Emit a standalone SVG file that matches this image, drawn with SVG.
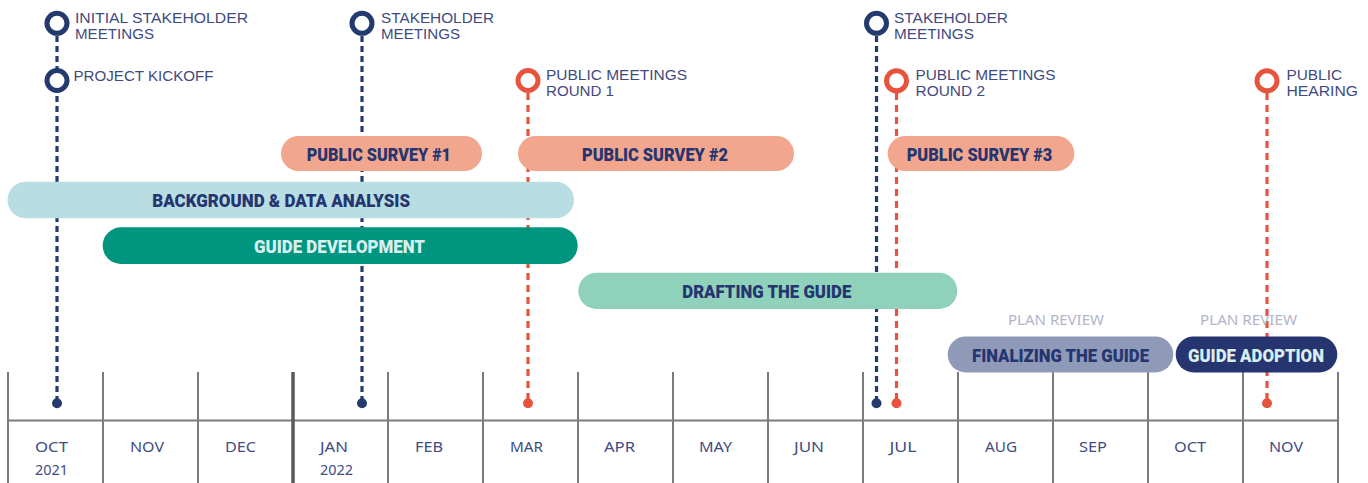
<svg xmlns="http://www.w3.org/2000/svg" width="1368" height="483" viewBox="0 0 1368 483">
  <style>
    .grid { stroke: #7b7b7b; stroke-width: 2; fill: none; }
    .grid-year { stroke: #5a5a5a; stroke-width: 3.5; }
    .month { font-family: "Noto Sans", "DejaVu Sans", sans-serif; font-size: 15px; fill: #414c82; }
    .label { font-family: "Liberation Sans", Arial, sans-serif; font-size: 14px; fill: #3f4a80; }
    .review { font-family: "Noto Sans", "DejaVu Sans", sans-serif; font-size: 13.5px; fill: #b4b4c9; }
    .bar-text { font-family: Roboto, "Liberation Sans", sans-serif; font-weight: 900; font-size: 19px; fill: #253570; }
    .bar-text.light { fill: #d9eeee; }
    .ring-navy { fill: #ffffff; stroke: #233a6e; stroke-width: 5; }
    .ring-red { fill: #ffffff; stroke: #e8533e; stroke-width: 5; }
    .dash-navy { stroke: #233a6e; stroke-width: 3.2; stroke-dasharray: 6 4; fill: none; }
    .dash-red { stroke: #e8533e; stroke-width: 3.2; stroke-dasharray: 7 5; fill: none; }
    .dot-navy { fill: #233a6e; }
    .dot-red { fill: #e8533e; }
  </style>

  <rect width="1368" height="483" fill="#ffffff"/>

  <!-- month grid -->
  <g id="month-grid">
    <line class="grid" x1="8" y1="420.5" x2="1338" y2="420.5"/>
    <line class="grid" x1="8" y1="372" x2="8" y2="483"/>
    <line class="grid" x1="103" y1="372" x2="103" y2="483"/>
    <line class="grid" x1="198" y1="372" x2="198" y2="483"/>
    <line class="grid grid-year" x1="293" y1="372" x2="293" y2="483"/>
    <line class="grid" x1="388" y1="372" x2="388" y2="483"/>
    <line class="grid" x1="483" y1="372" x2="483" y2="483"/>
    <line class="grid" x1="578" y1="372" x2="578" y2="483"/>
    <line class="grid" x1="673" y1="372" x2="673" y2="483"/>
    <line class="grid" x1="768" y1="372" x2="768" y2="483"/>
    <line class="grid" x1="863" y1="372" x2="863" y2="483"/>
    <line class="grid" x1="958" y1="372" x2="958" y2="483"/>
    <line class="grid" x1="1053" y1="372" x2="1053" y2="483"/>
    <line class="grid" x1="1148" y1="372" x2="1148" y2="483"/>
    <line class="grid" x1="1243" y1="372" x2="1243" y2="483"/>
    <line class="grid" x1="1338" y1="372" x2="1338" y2="483"/>

    <text class="month" x="35" y="452" textLength="33" lengthAdjust="spacingAndGlyphs">OCT</text>
    <text class="month" x="35" y="475" textLength="33" lengthAdjust="spacingAndGlyphs">2021</text>
    <text class="month" x="130" y="452" textLength="34" lengthAdjust="spacingAndGlyphs">NOV</text>
    <text class="month" x="225" y="452" textLength="31" lengthAdjust="spacingAndGlyphs">DEC</text>
    <text class="month" x="320" y="452" textLength="28" lengthAdjust="spacingAndGlyphs">JAN</text>
    <text class="month" x="320" y="475" textLength="33" lengthAdjust="spacingAndGlyphs">2022</text>
    <text class="month" x="415" y="452" textLength="28" lengthAdjust="spacingAndGlyphs">FEB</text>
    <text class="month" x="510" y="452" textLength="33" lengthAdjust="spacingAndGlyphs">MAR</text>
    <text class="month" x="604" y="452" textLength="31" lengthAdjust="spacingAndGlyphs">APR</text>
    <text class="month" x="699" y="452" textLength="33" lengthAdjust="spacingAndGlyphs">MAY</text>
    <text class="month" x="794" y="452" textLength="30" lengthAdjust="spacingAndGlyphs">JUN</text>
    <text class="month" x="889.5" y="452" textLength="27" lengthAdjust="spacingAndGlyphs">JUL</text>
    <text class="month" x="985" y="452" textLength="32" lengthAdjust="spacingAndGlyphs">AUG</text>
    <text class="month" x="1079" y="452" textLength="28" lengthAdjust="spacingAndGlyphs">SEP</text>
    <text class="month" x="1174" y="452" textLength="32" lengthAdjust="spacingAndGlyphs">OCT</text>
    <text class="month" x="1269" y="452" textLength="34" lengthAdjust="spacingAndGlyphs">NOV</text>
  </g>

  <!-- milestone drop lines -->
  <g id="connectors">
    <line class="dash-navy" x1="57" y1="36" x2="57" y2="400"/>
    <circle class="dot-navy" cx="57" cy="403.3" r="5"/>
    <line class="dash-navy" x1="362" y1="36" x2="362" y2="400"/>
    <circle class="dot-navy" cx="362" cy="403.3" r="5"/>
    <line class="dash-red" x1="528" y1="93" x2="528" y2="400"/>
    <circle class="dot-red" cx="528" cy="403.3" r="5"/>
    <line class="dash-navy" x1="876.5" y1="36" x2="876.5" y2="400"/>
    <circle class="dot-navy" cx="876.5" cy="403.3" r="5"/>
    <line class="dash-red" x1="896.5" y1="93" x2="896.5" y2="400"/>
    <circle class="dot-red" cx="896.5" cy="403.3" r="5"/>
    <line class="dash-red" x1="1267" y1="93" x2="1267" y2="400"/>
    <circle class="dot-red" cx="1267" cy="403.3" r="5"/>
  </g>

  <!-- task bars -->
  <g id="bar-survey-1">
    <rect x="281" y="136" width="201" height="35" rx="17.5" fill="#f2a68e"/>
    <text class="bar-text" x="306.7" y="161" textLength="144.3" lengthAdjust="spacingAndGlyphs">PUBLIC SURVEY #1</text>
  </g>
  <g id="bar-survey-2">
    <rect x="518" y="136" width="276" height="35" rx="17.5" fill="#f2a68e"/>
    <text class="bar-text" x="582" y="161" textLength="146" lengthAdjust="spacingAndGlyphs">PUBLIC SURVEY #2</text>
  </g>
  <g id="bar-survey-3">
    <rect x="887.7" y="136" width="186.6" height="35" rx="17.5" fill="#f2a68e"/>
    <text class="bar-text" x="906.7" y="161" textLength="145.6" lengthAdjust="spacingAndGlyphs">PUBLIC SURVEY #3</text>
  </g>
  <g id="bar-background">
    <rect x="7.5" y="181.7" width="566.5" height="36.6" rx="18.3" fill="#b8dde2"/>
    <text class="bar-text" x="152.3" y="207" textLength="257.7" lengthAdjust="spacingAndGlyphs">BACKGROUND &amp; DATA ANALYSIS</text>
  </g>
  <g id="bar-development">
    <rect x="102.7" y="227.3" width="475" height="36.7" rx="18.3" fill="#00957f"/>
    <text class="bar-text light" x="254" y="253" textLength="171" lengthAdjust="spacingAndGlyphs">GUIDE DEVELOPMENT</text>
  </g>
  <g id="bar-drafting">
    <rect x="578.3" y="272.7" width="379" height="36.3" rx="18.2" fill="#8fd1bb"/>
    <text class="bar-text" x="682.3" y="298" textLength="169" lengthAdjust="spacingAndGlyphs">DRAFTING THE GUIDE</text>
  </g>
  <g id="bar-finalizing">
    <text class="review" x="1008" y="325" textLength="96" lengthAdjust="spacingAndGlyphs">PLAN REVIEW</text>
    <rect x="947.7" y="336.4" width="225.6" height="36" rx="18" fill="#8f9ab9"/>
    <text class="bar-text" x="972" y="362" textLength="177" lengthAdjust="spacingAndGlyphs">FINALIZING THE GUIDE</text>
  </g>
  <g id="bar-adoption">
    <text class="review" x="1200" y="325" textLength="97" lengthAdjust="spacingAndGlyphs">PLAN REVIEW</text>
    <rect x="1175.7" y="336.4" width="161.6" height="36" rx="18" fill="#26356f"/>
    <text class="bar-text light" x="1188" y="362" textLength="136" lengthAdjust="spacingAndGlyphs">GUIDE ADOPTION</text>
  </g>

  <!-- milestones -->
  <g id="ms-initial-stakeholder">
    <circle class="ring-navy" cx="57" cy="23.3" r="10"/>
    <text class="label" x="75" y="23.3" textLength="173" lengthAdjust="spacingAndGlyphs">INITIAL STAKEHOLDER</text>
    <text class="label" x="75" y="39.3" textLength="79" lengthAdjust="spacingAndGlyphs">MEETINGS</text>
  </g>
  <g id="ms-project-kickoff">
    <circle class="ring-navy" cx="57" cy="80.5" r="10"/>
    <text class="label" x="73.5" y="80.8" textLength="140" lengthAdjust="spacingAndGlyphs">PROJECT KICKOFF</text>
  </g>
  <g id="ms-stakeholder-jan">
    <circle class="ring-navy" cx="362" cy="23.3" r="10"/>
    <text class="label" x="381" y="23.3" textLength="113" lengthAdjust="spacingAndGlyphs">STAKEHOLDER</text>
    <text class="label" x="381" y="39.3" textLength="79" lengthAdjust="spacingAndGlyphs">MEETINGS</text>
  </g>
  <g id="ms-public-round-1">
    <circle class="ring-red" cx="528" cy="80.5" r="10"/>
    <text class="label" x="546" y="80.3" textLength="141" lengthAdjust="spacingAndGlyphs">PUBLIC MEETINGS</text>
    <text class="label" x="546" y="96.3" textLength="68" lengthAdjust="spacingAndGlyphs">ROUND 1</text>
  </g>
  <g id="ms-stakeholder-jul">
    <circle class="ring-navy" cx="876.5" cy="23.3" r="10"/>
    <text class="label" x="894" y="23.3" textLength="114" lengthAdjust="spacingAndGlyphs">STAKEHOLDER</text>
    <text class="label" x="894" y="39.3" textLength="80" lengthAdjust="spacingAndGlyphs">MEETINGS</text>
  </g>
  <g id="ms-public-round-2">
    <circle class="ring-red" cx="896.5" cy="80.8" r="10"/>
    <text class="label" x="915.5" y="80.3" textLength="140" lengthAdjust="spacingAndGlyphs">PUBLIC MEETINGS</text>
    <text class="label" x="915.5" y="96.3" textLength="69.5" lengthAdjust="spacingAndGlyphs">ROUND 2</text>
  </g>
  <g id="ms-public-hearing">
    <circle class="ring-red" cx="1267" cy="80.8" r="10"/>
    <text class="label" x="1286.5" y="80.3" textLength="55.5" lengthAdjust="spacingAndGlyphs">PUBLIC</text>
    <text class="label" x="1286.5" y="96.3" textLength="71.5" lengthAdjust="spacingAndGlyphs">HEARING</text>
  </g>
</svg>
